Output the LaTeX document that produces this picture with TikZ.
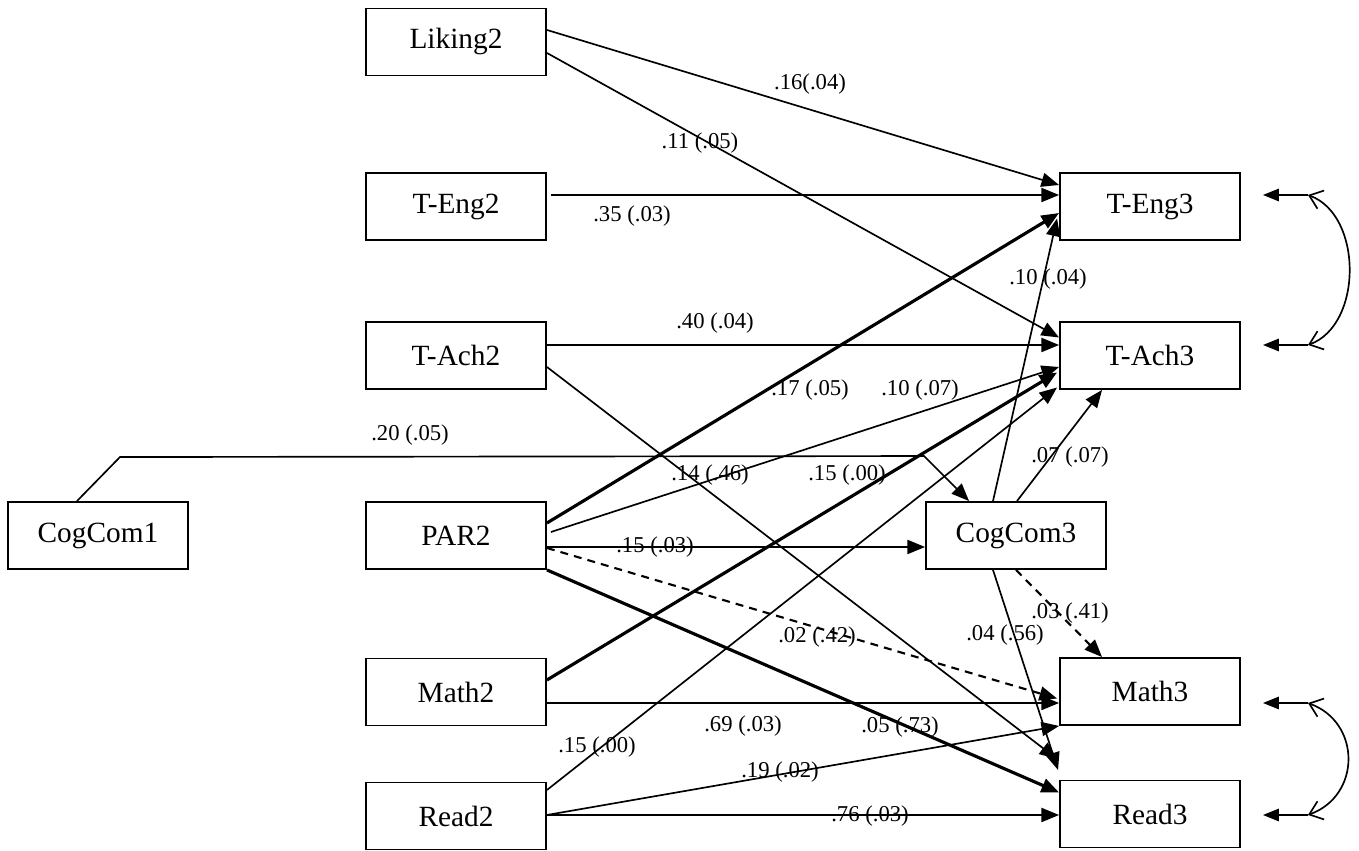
\documentclass[tikz,border=0pt]{standalone}
\usepackage{fontspec}
\setmainfont{Liberation Serif}
\usetikzlibrary{arrows.meta,calc}

\begin{document}
\begin{tikzpicture}[x=0.02cm, y=0.02cm,
	box/.style={draw, line width=1.1pt, minimum width=3.6cm, minimum height=1.34cm, inner sep=0pt, font=\fontsize{16.7}{20}\selectfont},
	coef/.style={inner sep=0pt, font=\fontsize{12.9}{15}\selectfont},
	link/.style={line width=0.95pt, -{Triangle[length=10pt,width=8pt]}},
	heavy/.style={link, line width=1.8pt},
	weak/.style={link, line width=1.2pt, dash pattern=on 4.5pt off 3.5pt},
	resid/.style={line width=1pt, -{Triangle[length=9pt,width=7pt]}},
	corr/.style={line width=0.95pt, {Straight Barb[length=7pt,width=11pt]}-{Straight Barb[length=7pt,width=11pt]}}]
	\useasboundingbox (0,0) rectangle (1359,851);
	% time 2 and time 1
	\node[box] (Liking2) at (456,809) {Liking2};
	\node[box] (TEng2) at (456,644.5) {T-Eng2};
	\node[box] (TAch2) at (456,495.5) {T-Ach2};
	\node[box] (PAR2) at (456,315.5) {PAR2};
	\node[box] (Math2) at (456,159) {Math2};
	\node[box] (Read2) at (456,35) {Read2};
	\node[box] (CogCom1) at (98,315.5) {CogCom1};
	% time 3
	\node[box] (CogCom3) at (1016,315.5) {CogCom3};
	\node[box] (TEng3) at (1150,644.5) {T-Eng3};
	\node[box] (TAch3) at (1150,495.5) {T-Ach3};
	\node[box] (Math3) at (1150,159.5) {Math3};
	\node[box] (Read3) at (1150,37) {Read3};

	\draw[link] ($(Liking2.east)+(0,12)$) -- ($(TEng3.west)+(0,21.5)$);
	\draw[link] ($(Liking2.east)+(0,-11)$) -- ($(TAch3.west)+(0,18)$);
	\draw[link] ($(TEng2.east)+(4,11.5)$) -- ($(TEng3.west)+(0,11.5)$);
	\draw[link] ($(TAch2.east)+(0,10.5)$) -- ($(TAch3.west)+(0,10.5)$);
	\draw[link] ($(TAch2.east)+(0,-11.5)$) -- ($(Read3.west)+(-2,55)$);
	\draw[heavy] ($(PAR2.east)+(0,12.5)$) -- ($(TEng3.west)+(0,-6.5)$);
	\draw[link] ($(PAR2.east)+(4,3.5)$) -- ($(TAch3.west)+(0,-11.5)$);
	\draw[link] ($(PAR2.east)+(0,-11.5)$) -- ($(CogCom3.west)+(0,-11.5)$);
	\draw[weak] ($(PAR2.east)+(0,-12.5)$) -- ($(Math3.west)+(-2,-7)$);
	\draw[heavy] (PAR2.south east) -- ($(Read3.west)+(0,21.5)$);
	\draw[heavy] ($(Math2.east)+(0,12)$) -- ($(TAch3.west)+(-2,-17)$);
	\draw[link] ($(Math2.east)+(0,-11)$) -- ($(Math3.west)+(0,-11.5)$);
	\draw[link] ($(Read2.east)+(0,26)$) -- ($(TAch3.west)+(-2,-32)$);
	\draw[link] ($(Read2.east)+(0,1)$) -- (Math3.south west);
	\draw[link] ($(Read2.east)+(0,1)$) -- ($(Read3.west)+(0,-1)$);
	\draw[link] ($(CogCom1.north)+(-21,0)$) -- ($(CogCom1.north)+(22,44)$) -- ($(CogCom3.north west)+(-1,45)$) -- ($(CogCom3.north west)+(44,0)$);
	\draw[link] ($(CogCom3.north)+(-23,0)$) -- ($(TEng3.west)+(-2,-12)$);
	\draw[link] ($(CogCom3.north)+(1,0)$) -- ($(TAch3.south west)+(43,0)$);
	\draw[link] ($(CogCom3.south)+(-23,0)$) -- ($(Read3.west)+(-1,44)$);
	\draw[weak] (CogCom3.south) -- ($(Math3.north west)+(43,0)$);

	% coefficients
	\node[coef] (c1) at (810,767) {.16(.04)};
	\node[coef] (c2) at (700,708) {.11 (.05)};
	\node[coef] (c3) at (632,635) {.35 (.03)};
	\node[coef] (c4) at (1048,572) {.10 (.04)};
	\node[coef] (c5) at (715,528) {.40 (.04)};
	\node[coef] (c6) at (810,461) {.17 (.05)};
	\node[coef] (c7) at (920,461) {.10 (.07)};
	\node[coef] (c8) at (410,416) {.20 (.05)};
	\node[coef] (c9) at (1070,394) {.07 (.07)};
	\node[coef] (c10) at (710,376) {.14 (.46)};
	\node[coef] (c11) at (847,376) {.15 (.00)};
	\node[coef] (c12) at (655,304) {.15 (.03)};
	\node[coef] (c13) at (1070,238) {.03 (.41)};
	\node[coef] (c14) at (1005,216) {.04 (.56)};
	\node[coef] (c15) at (817,214) {.02 (.42)};
	\node[coef] (c16) at (743,125) {.69 (.03)};
	\node[coef] (c17) at (900,124) {.05 (.73)};
	\node[coef] (c18) at (597,104) {.15 (.00)};
	\node[coef] (c19) at (780,79) {.19 (.02)};
	\node[coef] (c20) at (870,35) {.76 (.03)};

	% residuals and their correlations
	\coordinate (uEng) at ($(TEng3.east)+(67,11.5)$);
	\coordinate (uAch) at ($(TAch3.east)+(67,10.5)$);
	\coordinate (uMath) at ($(Math3.east)+(67,-11.5)$);
	\coordinate (uRead) at ($(Read3.east)+(67,-1)$);
	\draw[resid, shorten >=0.44cm] (uEng) -- (uEng -| TEng3.east);
	\draw[resid, shorten >=0.44cm] (uAch) -- (uAch -| TAch3.east);
	\draw[resid, shorten >=0.44cm] (uMath) -- (uMath -| Math3.east);
	\draw[resid, shorten >=0.44cm] (uRead) -- (uRead -| Read3.east);
	\draw[corr] (uEng) to[bend left=70] (uAch);
	\draw[corr] (uMath) to[bend left=70, looseness=1.3] (uRead);
\end{tikzpicture}
\end{document}
